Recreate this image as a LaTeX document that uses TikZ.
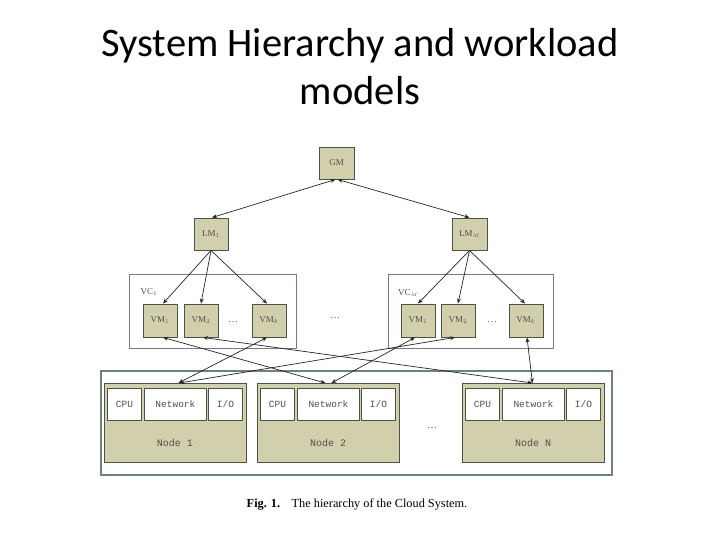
\documentclass[tikz,border=0pt]{standalone}
\usepackage{fontspec}
\setmainfont{Liberation Serif}
\newfontfamily\titlefont{Carlito}
\newfontfamily\monofont{Liberation Mono}
\usetikzlibrary{arrows.meta}
\definecolor{khaki}{HTML}{D2D0AC}
\definecolor{boxline}{HTML}{4A5548}
\definecolor{frameline}{HTML}{6F8276}
\definecolor{txt}{HTML}{505050}
\tikzset{
  kbox/.style={draw=boxline, line width=0.9pt, fill=khaki, inner sep=0pt,
    text=txt, font=\fontsize{9}{10}\selectfont},
  wbox/.style={draw=boxline, line width=0.9pt, fill=white, inner sep=0pt,
    text=txt, font=\monofont\fontsize{9.5}{10}\selectfont},
  frame/.style={draw=frameline, line width=1pt, fill=white},
  conn/.style={line width=0.7pt, black!85, {Stealth[length=5pt,width=4pt]}-{Stealth[length=5pt,width=4pt]}},
  down/.style={line width=0.7pt, black!85, -{Stealth[length=5pt,width=4pt]}},
  lbl/.style={text=txt, inner sep=0pt},
}
\begin{document}
\begin{tikzpicture}[x=1pt,y=-1pt]
\useasboundingbox (0,0) rectangle (720,540);
\fill[white] (0,0) rectangle (720,540);
% title
\node[font=\titlefont\fontsize{40.5}{44}\selectfont, anchor=base] (t1) at (360,57) {System Hierarchy and workload};
\node[font=\titlefont\fontsize{40.5}{44}\selectfont, anchor=base] (t2) at (360,105) {models};
% containers
\draw[frame] (129,274) rectangle (296,348);
\draw[frame] (388,274) rectangle (553,348);
\draw[frame, line width=1.4pt] (101,371) rectangle (612,475);
\node[lbl, font=\fontsize{9}{10}\selectfont] (vc1) at (149,292) {VC$_1$};
\node[lbl, font=\fontsize{9}{10}\selectfont] (vcm) at (408,293) {VC$_{\scriptscriptstyle M}$};
% managers
\node[kbox, minimum width=35pt, minimum height=32pt] (gm) at (336.5,163) {GM};
\node[kbox, minimum width=34pt, minimum height=32pt] (lm1) at (211,234) {LM$_1$};
\node[kbox, minimum width=35pt, minimum height=32pt] (lmm) at (469.5,234) {LM$_{\scriptscriptstyle M}$};
% VMs
\foreach \n/\x/\t in {a1/160/1, a2/201/2, ak/269/k, b1/418/1, b2/458/2, bk/526/k}{
  \node[kbox, minimum width=34pt, minimum height=33pt] (\n) at (\x,320.5) {VM$_{\t}$};
}
\node[lbl] (d1) at (233,322) {\dots};
\node[lbl] (d2) at (335,318) {\dots};
\node[lbl] (d3) at (492,322) {\dots};
% physical nodes
\foreach \n/\x/\t in {n1/104/1, n2/257/2, nn/462/N}{
  \node[kbox, anchor=north west, minimum width=142pt, minimum height=79pt] (\n) at (\x,383) {};
  \node[lbl, font=\monofont\fontsize{10}{11}\selectfont] (\n l) at (\x+71,443) {Node \t};
}
\foreach \n/\x in {n1/104, n2/257, nn/462}{
  \node[wbox, anchor=north west, minimum width=34pt, minimum height=32pt] (\n c) at (\x+3,388) {CPU};
  \node[wbox, anchor=north west, minimum width=62pt, minimum height=32pt] (\n w) at (\x+40,388) {Network};
  \node[wbox, anchor=north west, minimum width=34pt, minimum height=32pt] (\n i) at (\x+104,388) {I/O};
}
\node[lbl] (d4) at (432,428) {\dots};
% connectors
\draw[conn] ([xshift=-1pt]gm.south) -- ([xshift=1pt]lm1.north);
\draw[conn] ([xshift=1pt]gm.south) -- (lmm.north);
\draw[down] (lm1.south) -- ([xshift=3pt]a1.north);
\draw[down] (lm1.south) -- (a2.north);
\draw[down] (lm1.south) -- ([xshift=-2pt]ak.north);
\draw[down] (lmm.south) -- (b1.north);
\draw[down] (lmm.south) -- (b2.north);
\draw[down] (lmm.south) -- ([xshift=-1pt]bk.north);
\draw[conn] ([xshift=3pt]a1.south) -- ([xshift=-3pt]n2.north);
\draw[conn] ([xshift=2pt]a2.south) -- ([xshift=-1pt]nn.north);
\draw[conn] ([xshift=-2pt]ak.south) -- ([xshift=3pt]n1.north);
\draw[conn] ([xshift=-3pt]b1.south) -- ([xshift=3pt]n2.north);
\draw[conn] ([xshift=-3pt]b2.south) -- ([xshift=4pt]n1.north);
\draw[conn] ([xshift=1pt]bk.south) -- ([xshift=-1pt]nn.north);
% caption
\node[anchor=base, font=\fontsize{12.3}{13}\selectfont] (cap) at (357,507) {\textbf{Fig. 1.}\hspace{0.6em} The hierarchy of the Cloud System.};
\end{tikzpicture}
\end{document}
